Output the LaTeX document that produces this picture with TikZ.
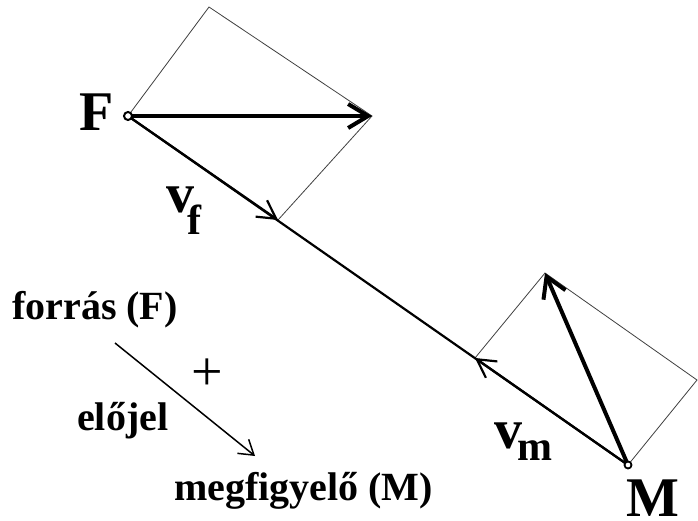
\documentclass[tikz,border=0pt]{standalone}
\usepackage{fontspec}
\setmainfont{Liberation Serif}
\usetikzlibrary{arrows.meta}
\begin{document}
\begin{tikzpicture}[x=1pt,y=-1pt,
  thinline/.style={line width=0.8pt, black!75},
  vecthick/.style={line width=4pt, -{Straight Barb[length=20pt,width=24pt]}},
  vecmid/.style={line width=2.2pt, -{Straight Barb[length=18pt,width=20pt]}},
  smallvec/.style={line width=1.5pt, -{Straight Barb[length=14pt,width=18pt]}},
  big/.style={font=\bfseries\fontsize{56}{56}\selectfont, inner sep=0, anchor=base west},
  small/.style={font=\bfseries\fontsize{40}{40}\selectfont, inner sep=0, anchor=base west}]
\useasboundingbox (0,0) rectangle (698,521);
\fill[white] (0,0) rectangle (698,521);
\coordinate (F) at (128,116);
\coordinate (M) at (628,465);
\coordinate (FT) at (209,7);
\coordinate (FA) at (372,116);
\coordinate (FB) at (278,220);
\coordinate (MT) at (545,273);
\coordinate (ML) at (475,358);
\coordinate (MR) at (697,380);
\draw[thinline] (F) -- (FT) -- (FA) -- (FB);
\draw[thinline] (M) -- (MR) -- (MT) -- (ML);
\draw[line width=2.2pt] (F) -- (M);
\draw[vecmid] (F) -- (FB);
\draw[vecmid] (M) -- (ML);
\draw[vecthick] (F) -- (FA);
\draw[vecthick] (M) -- (MT);
\draw[line width=2pt, fill=white] (F) circle (4);
\draw[line width=1.8pt, fill=white] (M) circle (3.5);
\node[big] (Flab) at (79,131) {F};
\node[big] (Mlab) at (626,516) {M};
\node[big] (vf) at (166,213) {v\kern-7pt\raisebox{-22pt}{\fontsize{42}{42}\selectfont f}};
\node[big] (vm) at (494,448) {v\kern-5pt\raisebox{-12pt}{\fontsize{42}{42}\selectfont m}};
\node[small] (src) at (12,319) {forrás (F)};
\node[small] (sign) at (77,430) {előjel};
\node[small] (obs) at (174,500) {megfigyelő (M)};
\node[font=\fontsize{56}{56}\selectfont, inner sep=0] (plus) at (207,375) {+};
\coordinate (sa) at (115,343);
\coordinate (sb) at (255,456);
\draw[smallvec] (sa) -- (sb);
\end{tikzpicture}
\end{document}
